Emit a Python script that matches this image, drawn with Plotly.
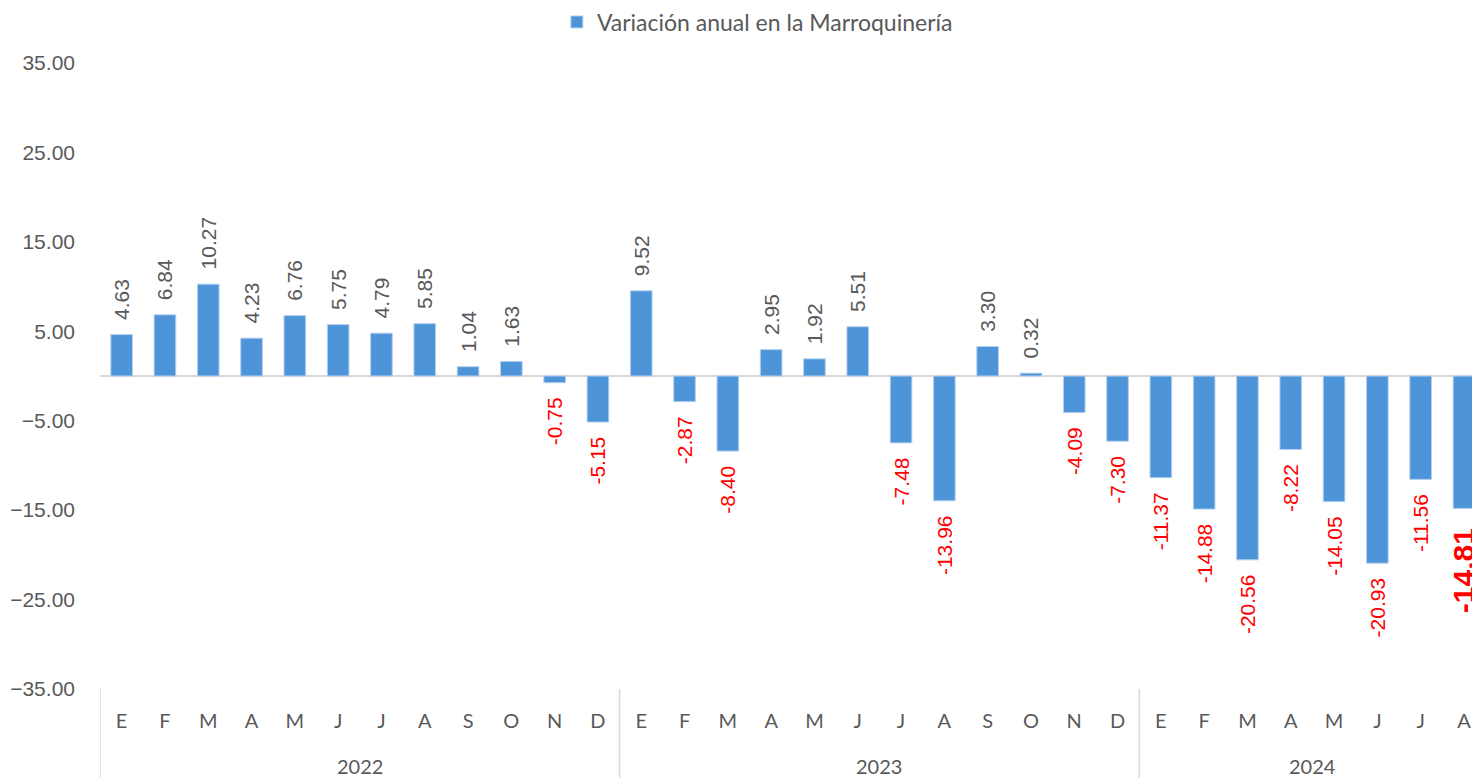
import plotly.graph_objects as go

years = ["2022", "2023", "2024"]
months_per_year = [12, 12, 8]
month_labels = ["E", "F", "M", "A", "M", "J", "J", "A", "S", "O", "N", "D",
                "E", "F", "M", "A", "M", "J", "J", "A", "S", "O", "N", "D",
                "E", "F", "M", "A", "M", "J", "J", "A"]
values = [4.63, 6.84, 10.27, 4.23, 6.76, 5.75, 4.79, 5.85, 1.04, 1.63, -0.75, -5.15,
          9.52, -2.87, -8.40, 2.95, 1.92, 5.51, -7.48, -13.96, 3.30, 0.32, -4.09, -7.30,
          -11.37, -14.88, -20.56, -8.22, -14.05, -20.93, -11.56, -14.81]
y_ticks = [35, 25, 15, 5, -5, -15, -25, -35]
series_name = "Variación anual en la Marroquinería"

BAR = "#4e94d8"
GRAY = "#595959"
pad = "\u00a0\u00a0"

x_idx = list(range(len(values)))
n = len(values)
texts, colors, sizes = [], [], []
for i, v in enumerate(values):
    s = f"{v:.2f}"
    if i == n - 1:
        s = f"<b>{s}</b>"
    texts.append(pad + s if v >= 0 else s + pad)
    colors.append(GRAY if v >= 0 else "#ff0000")
    sizes.append(30 if i == n - 1 else 21)

fig = go.Figure()
fig.add_trace(go.Bar(
    x=x_idx, y=values, name=series_name, width=0.5,
    marker=dict(color=BAR, line=dict(color="#b4d0ee", width=1)),
    text=texts, textposition="outside", textangle=-90,
    textfont=dict(family="Liberation Sans, Arial", size=sizes, color=colors),
    constraintext="none", cliponaxis=True,
    showlegend=True,
))

# group boundaries / year labels
shapes, annotations = [], []
start = 0
bounds = [-0.5]
for yr, cnt in zip(years, months_per_year):
    center = start + (cnt - 1) / 2
    annotations.append(dict(x=center, y=-0.123, xref="x", yref="paper", text=yr,
                            showarrow=False, yanchor="middle",
                            font=dict(family="Lato", size=20, color=GRAY)))
    start += cnt
    bounds.append(start - 0.5)
for b in bounds[:-1]:
    shapes.append(dict(type="line", xref="x", yref="paper", x0=b, x1=b, y0=0, y1=-0.145,
                       line=dict(color="#d9d9d9", width=1.5)))

plot_left = 100
unit_px = 43.3
range_right = (1472 - plot_left) / unit_px - 0.5

fig.update_layout(
    width=1472, height=778,
    margin=dict(l=100, r=0, t=63, b=89),
    paper_bgcolor="white", plot_bgcolor="white",
    font=dict(family="Liberation Sans, Arial", color=GRAY),
    showlegend=True,
    legend=dict(orientation="h", x=0.333, xanchor="left", y=1.0655, yanchor="middle",
                font=dict(family="Lato", size=23, color=GRAY), itemwidth=30,
                bgcolor="rgba(0,0,0,0)"),
    xaxis=dict(range=[-0.5, range_right], tickmode="array", tickvals=x_idx,
               ticktext=month_labels, showgrid=False, zeroline=False, showline=False,
               ticks="", ticklabelstandoff=18,
               tickfont=dict(family="Lato", size=20, color=GRAY)),
    yaxis=dict(range=[-35, 35], tickmode="array", tickvals=y_ticks,
               tickformat=".2f", showgrid=False, zeroline=True,
               zerolinecolor="#d9d9d9", zerolinewidth=2, showline=False,
               ticks="", ticklabelstandoff=24,
               tickfont=dict(family="Liberation Sans, Arial", size=21, color=GRAY)),
    shapes=shapes, annotations=annotations,
    bargap=0.5,
)

fig.write_html("out.html", config={"displayModeBar": False},
               post_script="document.body.style.margin='0';")
